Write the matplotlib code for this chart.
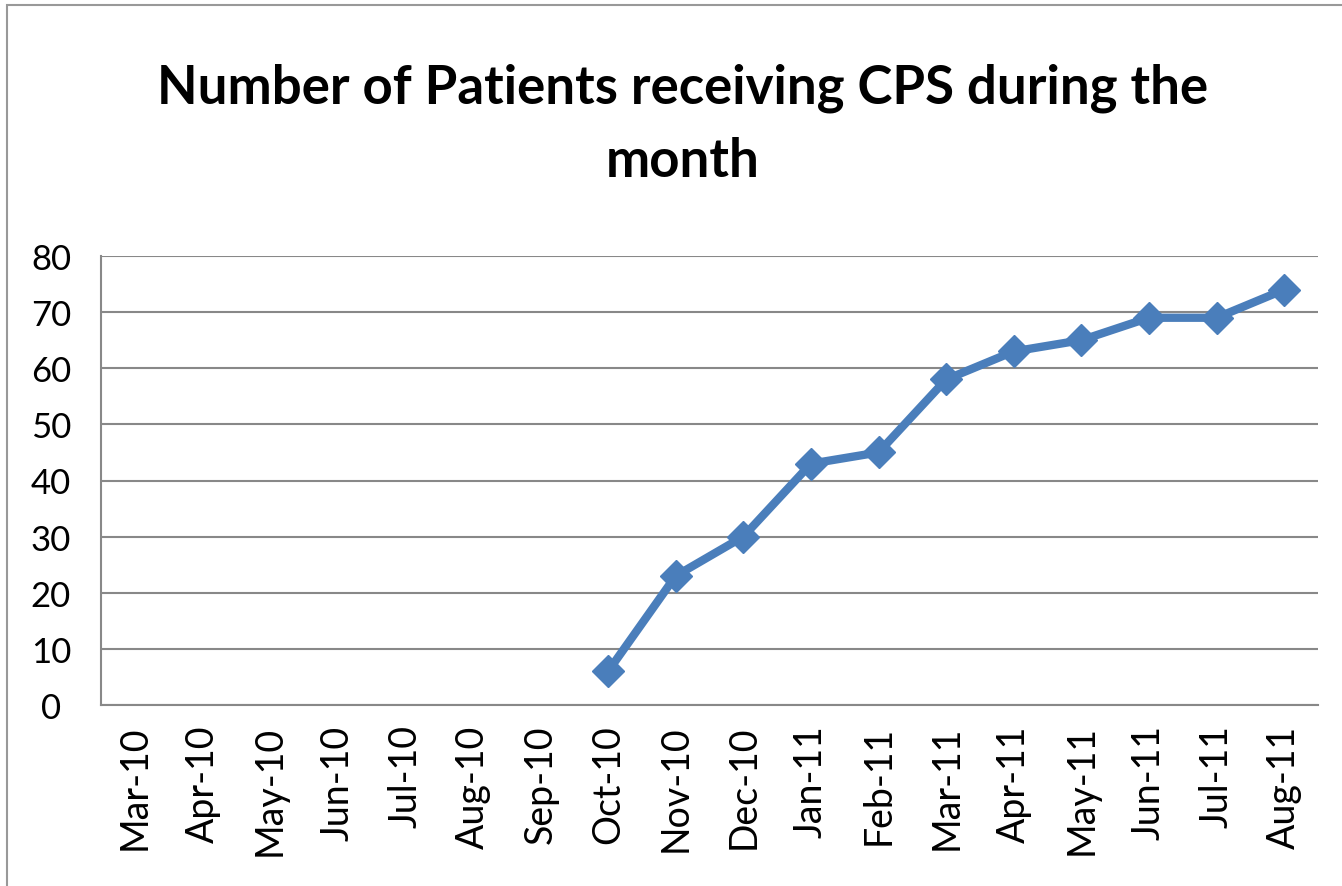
import matplotlib.pyplot as plt
import numpy as np
from matplotlib.patches import Rectangle

months = ["Mar-10", "Apr-10", "May-10", "Jun-10", "Jul-10", "Aug-10", "Sep-10",
          "Oct-10", "Nov-10", "Dec-10", "Jan-11", "Feb-11", "Mar-11", "Apr-11",
          "May-11", "Jun-11", "Jul-11", "Aug-11"]
patients = [np.nan, np.nan, np.nan, np.nan, np.nan, np.nan, np.nan,
            6, 23, 30, 43, 45, 58, 63, 65, 69, 69, 74]

plt.rcParams["font.family"] = ["Lato", "DejaVu Sans"]

W, H = 1342, 887
fig = plt.figure(figsize=(W / 100, H / 100), dpi=100)

# plot area in pixels: left 101, right 1318, top 257, bottom 706
ax = fig.add_axes([101 / W, 1 - 706 / H, (1318 - 101) / W, (706 - 257) / H])

x = np.arange(len(months))
ax.plot(x, patients, color="#4A7EBB", lw=6, marker="D", markersize=16,
        solid_joinstyle="round")

ax.set_xlim(-0.5, len(months) - 0.5)
ax.set_ylim(0, 80)
ax.set_yticks(range(0, 81, 10))
ax.set_xticks(x, months, rotation=90)
ax.tick_params(axis="x", length=0, labelsize=27, pad=14)
ax.tick_params(axis="y", length=0, labelsize=25, pad=36)
for lbl in ax.get_yticklabels():
    lbl.set_horizontalalignment("center")

ax.grid(axis="y", color="#888888", lw=1.5)
ax.set_axisbelow(True)
for side in ("top", "right"):
    ax.spines[side].set_visible(False)
for side in ("left", "bottom"):
    ax.spines[side].set_color("#888888")
    ax.spines[side].set_linewidth(1.5)

fig.text(683 / W, 1 - 125 / H, "Number of Patients receiving CPS during the\nmonth",
         ha="center", va="center", fontsize=38, fontweight="bold",
         linespacing=1.6)

# outer chart border
fig.patches.append(Rectangle((7 / W, -0.01), 1.1, 1 - 6 / H + 0.01,
                             transform=fig.transFigure, fill=False,
                             edgecolor="#999999", lw=1.5))

fig.savefig("out.png", dpi=100)
